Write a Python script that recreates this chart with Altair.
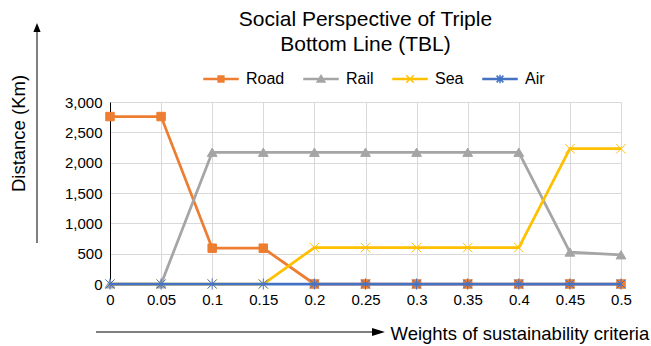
import altair as alt
import pandas as pd

# Sustainability-criteria weights on the category axis
weights = ["0", "0.05", "0.1", "0.15", "0.2", "0.25", "0.3", "0.35", "0.4", "0.45", "0.5"]
modes = ["Road", "Rail", "Sea", "Air"]

# Distance (km) per transport mode at each weight
road = [2760, 2760, 590, 590, 0, 0, 0, 0, 0, 0, 0]
rail = [0, 0, 2170, 2170, 2170, 2170, 2170, 2170, 2170, 525, 480]
sea = [0, 0, 0, 0, 600, 600, 600, 600, 600, 2230, 2230]
air = [0, 0, 0, 0, 0, 0, 0, 0, 0, 0, 0]

y_ticks = [0, 500, 1000, 1500, 2000, 2500, 3000]
colors = ["#ED7D31", "#A5A5A5", "#FFC000", "#4472C4"]

FONT = "Liberation Sans"

# Marker outlines (unit square, scaled by the symbol size) and their sizes
marker_paths = {
    "Road": "M-1,-1H1V1H-1Z",
    "Rail": "M0,-1L1.15,0.95H-1.15Z",
    "Sea": "M-1,-1L1,1M-1,1L1,-1",
    "Air": "M-1,-1L1,1M-1,1L1,-1M0,-1.25V1.25",
}
marker_sizes = {"Road": 72, "Rail": 72, "Sea": 90, "Air": 80}

# Legend keys: a short stroke of the series line with its marker in the middle
LINE = "M-1,-0.03H1V0.03H-1Z"
key_paths = [
    LINE + "M-0.17,-0.17H0.17V0.17H-0.17Z",
    LINE + "M0,-0.21L0.23,0.17H-0.23Z",
    LINE + "M-0.22,-0.22L0.22,0.22M-0.22,0.22L0.22,-0.22",
    LINE + "M-0.2,-0.2L0.2,0.2M-0.2,0.2L0.2,-0.2M0,-0.25V0.25",
]

values = {"Road": road, "Rail": rail, "Sea": sea, "Air": air}
df = pd.DataFrame(
    {
        "weight": [w for m in modes for w in weights],
        "mode": [m for m in modes for _ in weights],
        "km": [v for m in modes for v in values[m]],
    }
)

x_enc = alt.X(
    "weight:O",
    sort=weights,
    scale=alt.Scale(type="point", padding=0),
    axis=alt.Axis(
        title="Weights of sustainability criteria",
        titleX=280,
        titleY=55,
        titleAlign="left",
        titleBaseline="alphabetic",
        labelAngle=0,
    ),
)
y_enc = alt.Y(
    "km:Q",
    scale=alt.Scale(domain=[0, 3000], nice=False),
    axis=alt.Axis(
        title="Distance (Km)",
        values=y_ticks,
        format=",.0f",
        titleX=-92,
        titleY=31,
        titleAlign="center",
        titleBaseline="middle",
        titleAngle=-90,
    ),
)

# Each series draws its line and then its markers, in series order
layers = []
for mode, color in zip(modes, colors):
    base = alt.Chart(df).transform_filter(alt.datum.mode == mode)
    layers.append(
        base.mark_line(color=color, strokeWidth=2.75).encode(x=x_enc, y=y_enc)
    )
    layers.append(
        base.mark_point(
            shape=marker_paths[mode],
            filled=True,
            fill=color,
            stroke=color,
            strokeWidth=1,
            size=marker_sizes[mode],
            opacity=1,
        ).encode(x=x_enc, y=y_enc)
    )

legend = alt.Legend(
    title=None,
    orient="none",
    legendX=93,
    legendY=-41,
    direction="horizontal",
    columns=4,
    padding=0,
    labelFont=FONT,
    labelFontSize=16,
    labelColor="#000000",
    labelOffset=7,
    columnPadding=16,
    symbolSize=1156,
    symbolStrokeWidth=1.5,
)
key = (
    alt.Chart(pd.DataFrame({"mode": modes}))
    .transform_filter("false")
    .mark_point(filled=True, opacity=1, strokeWidth=1.5)
    .encode(
        fill=alt.Fill("mode:N", scale=alt.Scale(domain=modes, range=colors), legend=legend),
        stroke=alt.Stroke("mode:N", scale=alt.Scale(domain=modes, range=colors), legend=legend),
        shape=alt.Shape("mode:N", scale=alt.Scale(domain=modes, range=key_paths), legend=legend),
    )
)

# Direction arrows beside the axis titles
one = pd.DataFrame({"k": [0]})
v_arrow = alt.Chart(one).mark_rule(color="black", strokeWidth=1).encode(
    x=alt.value(-73), y=alt.value(141), y2=alt.value(-71)
)
v_head = alt.Chart(one).mark_point(
    shape="M0,-1L0.8,1H-0.8Z", filled=True, color="black", size=81, opacity=1
).encode(x=alt.value(-73), y=alt.value(-74.5))
h_arrow = alt.Chart(one).mark_rule(color="black", strokeWidth=1).encode(
    x=alt.value(-14), x2=alt.value(265), y=alt.value(230)
)
h_head = alt.Chart(one).mark_point(
    shape="M1,0L-1,-0.6V0.6Z", filled=True, color="black", size=169, opacity=1
).encode(x=alt.value(268.5), y=alt.value(230))

chart = (
    alt.layer(*layers, key, v_arrow, v_head, h_arrow, h_head)
    .properties(
        width=511,
        height=182,
        autosize=alt.AutoSizeParams(type="none"),
        padding={"left": 110, "top": 102, "right": 30, "bottom": 62},
        title=alt.TitleParams(
            text=["Social Perspective of Triple", "Bottom Line (TBL)"],
            font=FONT,
            fontSize=21,
            fontWeight="normal",
            color="#000000",
            anchor="middle",
            lineHeight=25,
            offset=7,
            dy=39,
        ),
    )
    .configure_view(stroke=None)
    .configure_axis(
        labelFont=FONT,
        labelFontSize=15,
        labelColor="#000000",
        labelPadding=8,
        titleFont=FONT,
        titleFontSize=18.5,
        titleFontWeight="normal",
        titleColor="#000000",
        ticks=False,
        grid=True,
        gridColor="#d9d9d9",
        gridWidth=1,
    )
    .configure_axisX(domainColor="#d9d9d9", domainWidth=1)
    .configure_axisY(domainColor="#000000", domainWidth=1)
)

chart.save("out.html", embed_options={"renderer": "svg", "actions": False})
